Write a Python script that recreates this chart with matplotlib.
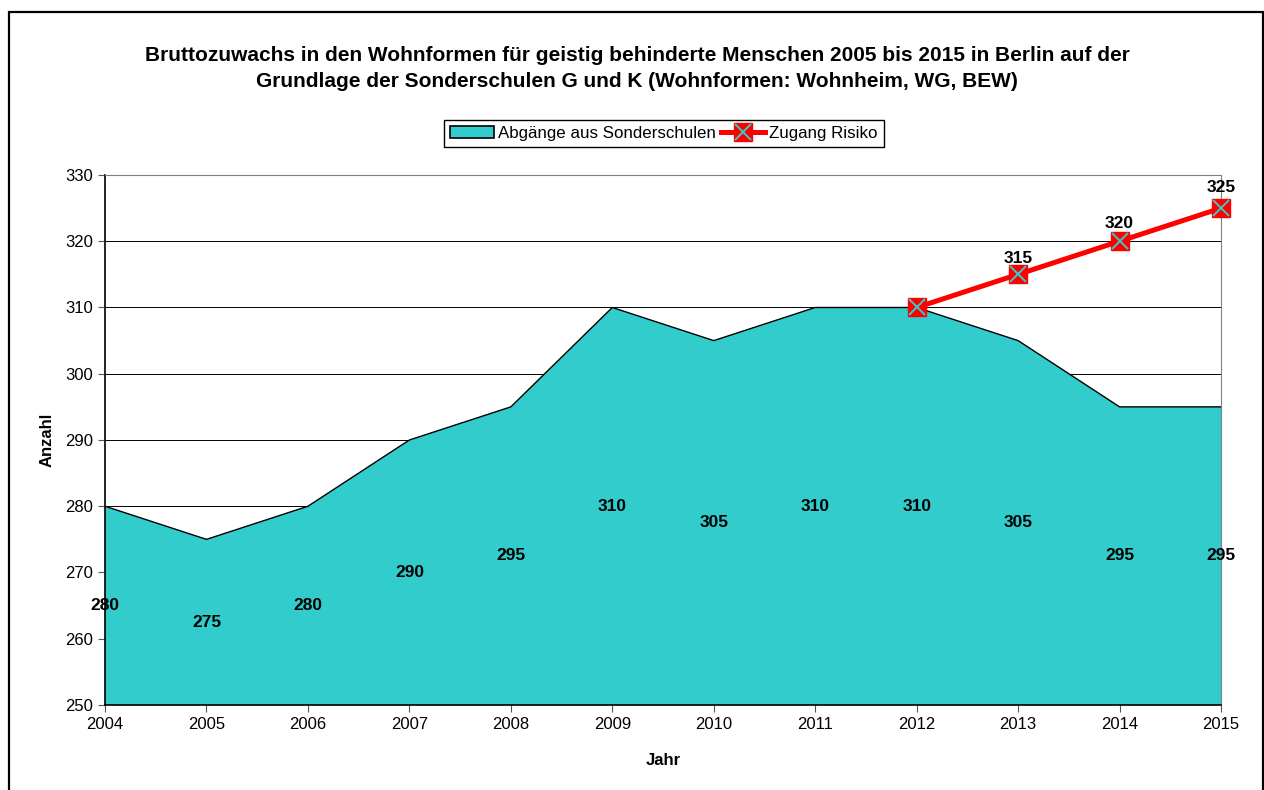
import numpy as np
import matplotlib.pyplot as plt
from matplotlib.patches import Patch, Rectangle
from matplotlib.legend_handler import HandlerTuple

plt.rcParams['font.family'] = ['Liberation Sans', 'DejaVu Sans']

# Daten
jahre = [2004, 2005, 2006, 2007, 2008, 2009, 2010, 2011, 2012, 2013, 2014, 2015]
abgaenge = [280, 275, 280, 290, 295, 310, 305, 310, 310, 305, 295, 295]
risiko_jahre = [2012, 2013, 2014, 2015]
risiko = [310, 315, 320, 325]

fig = plt.figure(figsize=(12.64, 7.9), dpi=100)
ax = fig.add_axes([0.0831, 0.1076, 0.8829, 0.6709])

# Rahmen um die ganze Grafik
fig.patches.append(Rectangle((0.0071, -0.05), 0.9921, 1.035, transform=fig.transFigure,
                             fill=False, ec='black', lw=1.6))

ax.set_xlim(2004, 2015)
ax.set_ylim(250, 330)
ax.set_xticks(jahre)
ax.set_yticks(np.arange(250, 331, 10))
ax.grid(axis='y', color='black', lw=0.7)
ax.set_axisbelow(True)
for s in ['top', 'right']:
    ax.spines[s].set_color('#808080')
ax.spines['left'].set_lw(1.2)
ax.spines['bottom'].set_lw(1.2)
ax.tick_params(direction='out', length=5, labelsize=12, color='#555555')

ax.fill_between(jahre, 250, abgaenge, color='#33CCCC', ec='none', zorder=2)
ax.plot(jahre, abgaenge, color='black', lw=1, zorder=3)

linie, = ax.plot(risiko_jahre, risiko, color='#FF0000', lw=3.6, marker='s', ms=13,
                 mfc='#FF0000', mec='#FF0000', zorder=4, clip_on=False)
kreuz, = ax.plot(risiko_jahre, risiko, ls='none', marker='x', ms=12, mew=1.4,
                 color='#33CCCC', zorder=5, clip_on=False)

for x, v in zip(jahre, abgaenge):
    ax.text(x, (250 + v) / 2, str(v), ha='center', va='center', fontsize=12.5,
            fontweight='bold', zorder=6)
for x, v, d in zip(risiko_jahre[1:], risiko[1:], [1.3, 1.6, 2.0]):
    ax.text(x, v + d, str(v), ha='center', va='bottom', fontsize=12.5,
            fontweight='bold', zorder=6)

ax.set_xlabel('Jahr', fontsize=12, fontweight='bold', labelpad=15)
ax.set_ylabel('Anzahl', fontsize=12, fontweight='bold', labelpad=8)

fig.text(0.504, 0.930, 'Bruttozuwachs in den Wohnformen für geistig behinderte Menschen 2005 bis 2015 in Berlin auf der',
         ha='center', va='center', fontsize=15, fontweight='bold')
fig.text(0.504, 0.897, 'Grundlage der Sonderschulen G und K (Wohnformen: Wohnheim, WG, BEW)',
         ha='center', va='center', fontsize=15, fontweight='bold')

flaeche = Patch(fc='#33CCCC', ec='black', lw=1.2)
fig.legend([flaeche, (linie, kreuz)], ['Abgänge aus Sonderschulen', 'Zugang Risiko'],
           handler_map={tuple: HandlerTuple(ndivide=1, pad=0)},
           loc='center', bbox_to_anchor=(0.525, 0.831), ncol=2, fontsize=12.2,
           frameon=True, fancybox=False, edgecolor='black', framealpha=1,
           borderpad=0.35, handlelength=2.6, handletextpad=0.25, columnspacing=0.3)

plt.savefig('out.png', dpi=100)
